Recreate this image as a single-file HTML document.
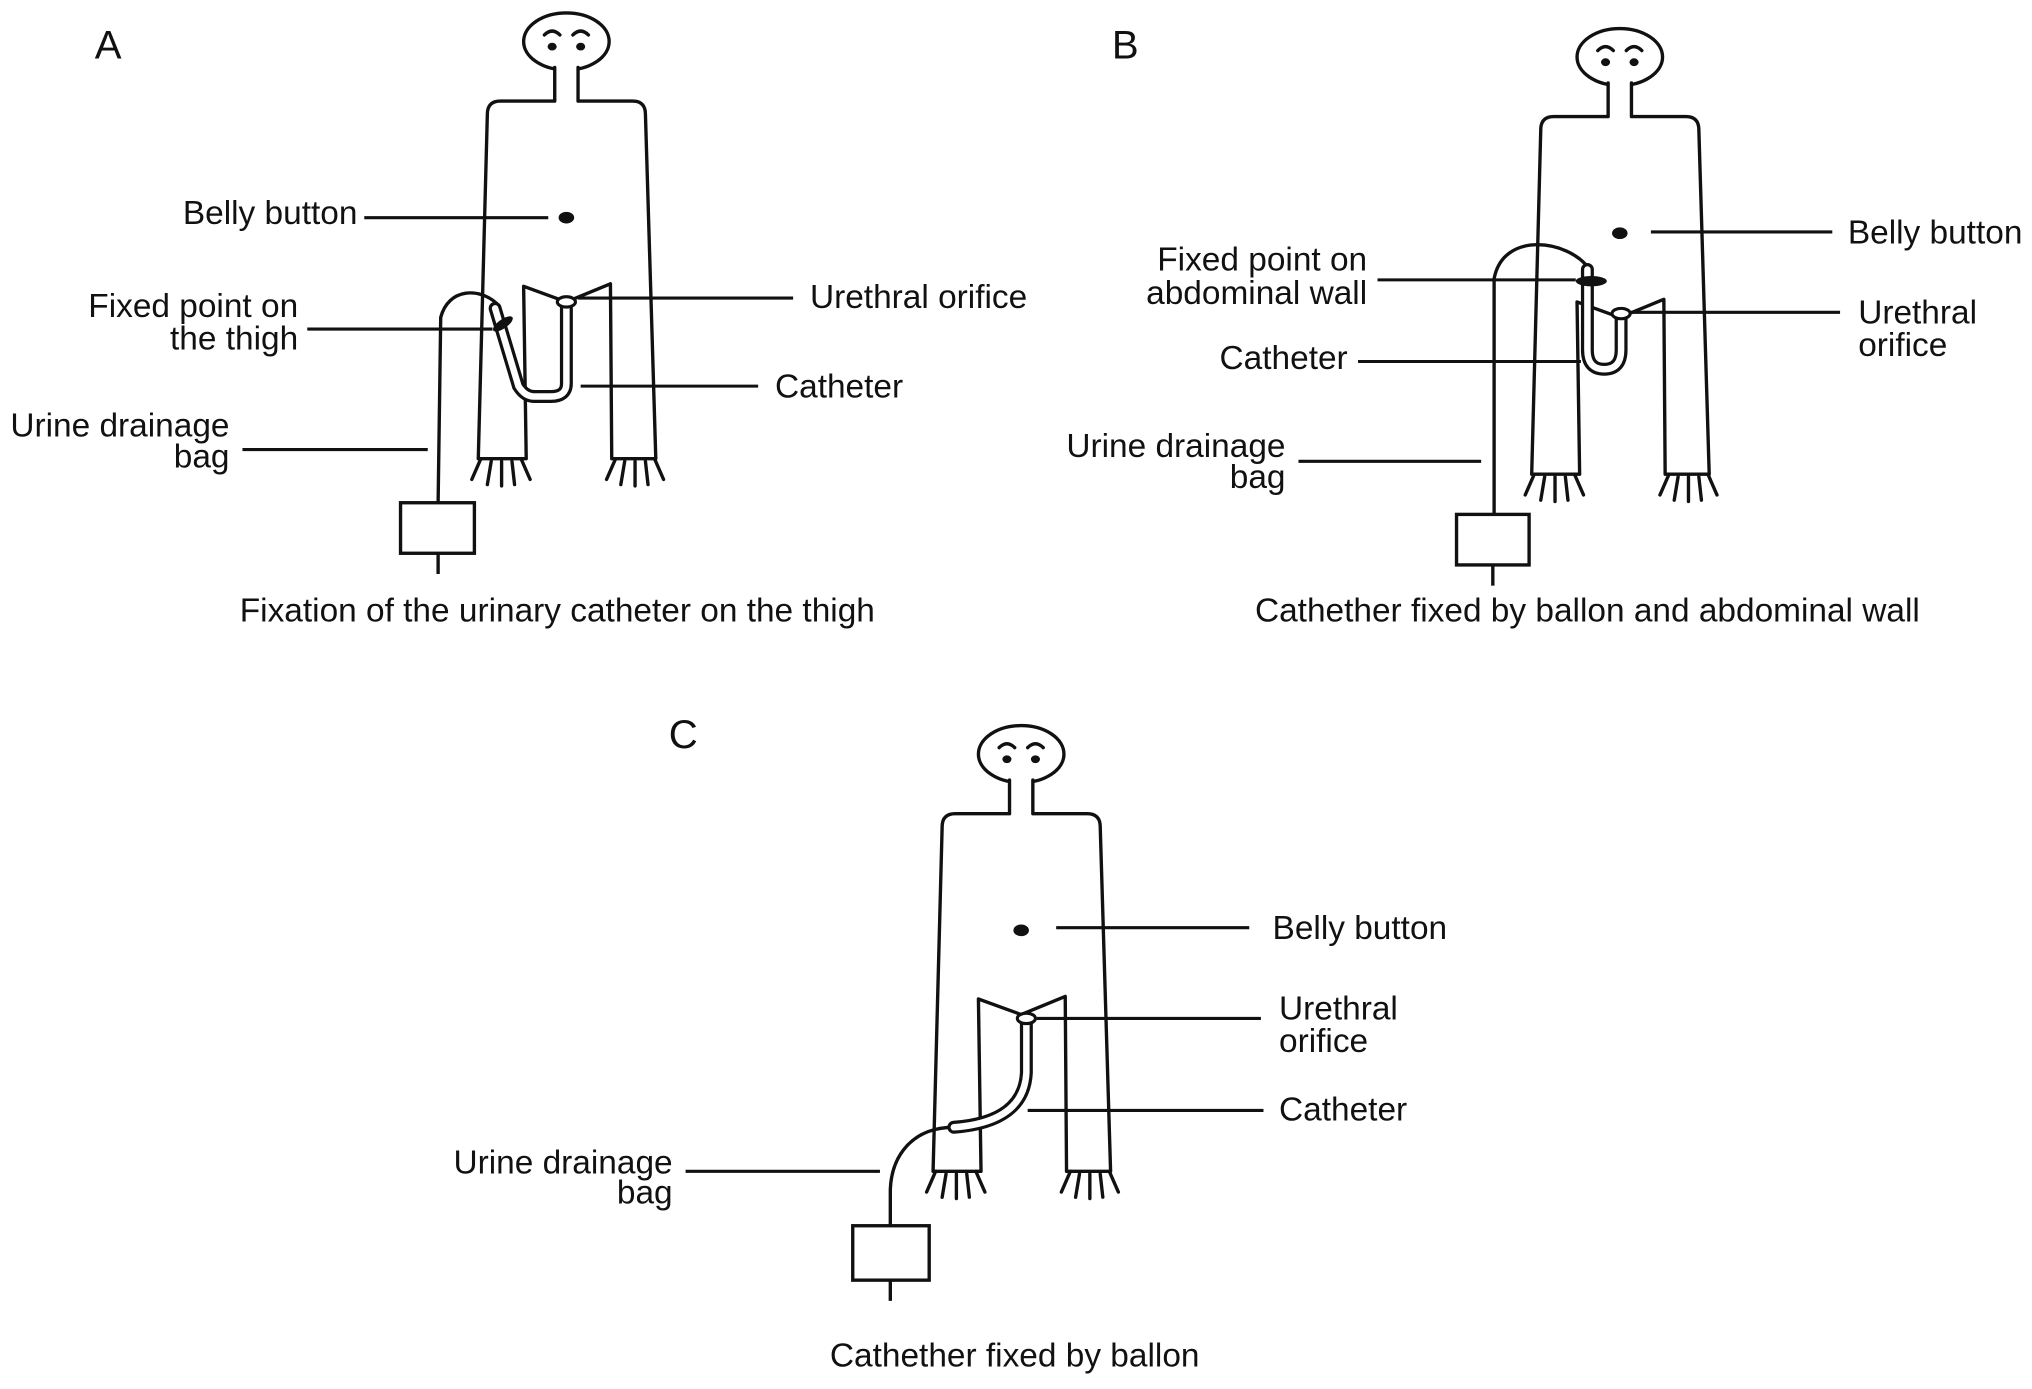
<!DOCTYPE html>
<html><head><meta charset="utf-8"><style>
html,body{margin:0;padding:0;background:#fff;}
svg{display:block;}
text{font-family:"Liberation Sans",Arial,sans-serif;font-size:25.8px;fill:#111;dominant-baseline:middle;}
.lbl{font-size:31px;}
</style></head><body>
<svg width="2032" height="1389" viewBox="0 0 1568 1072" xmlns="http://www.w3.org/2000/svg">
<defs>
<g id="fig" fill="none" stroke="#111" stroke-width="2.6" stroke-linejoin="round" stroke-linecap="round">
  <ellipse cx="61" cy="-46" rx="33" ry="22" fill="#fff"/>
  <path d="M52,-26 V0 H10 Q0,0 0,10 L-7,276 L30,276 L28,143 L61,155 L95,141 L96,276 L130,276 L122,10 Q122,0 112,0 H70 V-26" fill="#fff"/>
  <path d="M44,-51 Q50,-57 56,-51 M66,-51 Q72,-57 78,-51"/>
  <ellipse cx="50" cy="-42" rx="3.5" ry="3" fill="#111" stroke="none"/>
  <ellipse cx="72" cy="-42" rx="3.5" ry="3" fill="#111" stroke="none"/>
  <ellipse cx="61" cy="90" rx="6" ry="4.5" fill="#111" stroke="none"/>
  <path d="M-5,276 L-12,292 M3,278 L0,296 M11,278 L11,297 M19,278 L21,296 M26,276 L33,292"/>
  <path d="M99,276 L92,292 M106,278 L103,296 M114,278 L114,297 M122,278 L124,296 M129,276 L136,292"/>
</g>
</defs>
<rect width="1568" height="1072" fill="#fff"/>

<!-- Panel A -->
<use href="#fig" x="376" y="78"/>
<g fill="none" stroke="#111" stroke-linecap="round">
  <path d="M383,234 C370,222 346,222 340,245 L338,388" stroke-width="2.6"/>
  <path d="M437,234 L437,296 Q437,306 425,306 L412,306 Q405,306 400,298 L382,238" stroke-width="10"/>
  <path d="M437,234 L437,296 Q437,306 425,306 L412,306 Q405,306 400,298 L382,238" stroke="#fff" stroke-width="5"/>
</g>
<ellipse cx="437" cy="233" rx="7" ry="4" fill="#fff" stroke="#111" stroke-width="2.4"/>
<ellipse cx="388" cy="250" rx="9" ry="3.5" fill="#111" transform="rotate(-35 388 250)"/>
<rect x="309" y="388" width="57" height="39" fill="#fff" stroke="#111" stroke-width="2.6"/>
<line x1="338" y1="427" x2="338" y2="443" stroke="#111" stroke-width="2.6"/>
<g stroke="#111" stroke-width="2.4">
  <line x1="281" y1="168" x2="423" y2="168"/>
  <line x1="237" y1="254" x2="380" y2="254"/>
  <line x1="446" y1="230" x2="612" y2="230"/>
  <line x1="448" y1="298" x2="585" y2="298"/>
  <line x1="187" y1="347" x2="330" y2="347"/>
</g>
<text class="lbl" x="73" y="37">A</text>
<text x="141" y="166">Belly button</text>
<text x="230" y="238" text-anchor="end">Fixed point on</text>
<text x="230" y="263" text-anchor="end">the thigh</text>
<text x="625" y="231">Urethral orifice</text>
<text x="598" y="300">Catheter</text>
<text x="177" y="330" text-anchor="end">Urine drainage</text>
<text x="177" y="354" text-anchor="end">bag</text>
<text x="430" y="473" text-anchor="middle">Fixation of the urinary catheter on the thigh</text>

<!-- Panel B -->
<use href="#fig" x="1189" y="90"/>
<g fill="none" stroke="#111" stroke-linecap="round">
  <path d="M1226,207 C1210,185 1160,178 1153,215 L1153,397" stroke-width="2.6"/>
  <path d="M1251,243 L1251,270 Q1251,285 1238,285 Q1225,285 1225,270 L1225,208" stroke-width="10"/>
  <path d="M1251,243 L1251,270 Q1251,285 1238,285 Q1225,285 1225,270 L1225,208" stroke="#fff" stroke-width="5"/>
</g>
<ellipse cx="1251" cy="242" rx="7" ry="4" fill="#fff" stroke="#111" stroke-width="2.4"/>
<ellipse cx="1228" cy="217" rx="12" ry="4" fill="#111"/>
<rect x="1124" y="397" width="56" height="39" fill="#fff" stroke="#111" stroke-width="2.6"/>
<line x1="1152" y1="436" x2="1152" y2="452" stroke="#111" stroke-width="2.6"/>
<g stroke="#111" stroke-width="2.4">
  <line x1="1274" y1="179" x2="1414" y2="179"/>
  <line x1="1063" y1="216" x2="1216" y2="216"/>
  <line x1="1048" y1="279" x2="1220" y2="279"/>
  <line x1="1258" y1="241" x2="1420" y2="241"/>
  <line x1="1002" y1="356" x2="1143" y2="356"/>
</g>
<text class="lbl" x="858" y="37">B</text>
<text x="1426" y="181">Belly button</text>
<text x="1055" y="202" text-anchor="end">Fixed point on</text>
<text x="1055" y="228" text-anchor="end">abdominal wall</text>
<text x="1040" y="278" text-anchor="end">Catheter</text>
<text x="1434" y="243">Urethral</text>
<text x="1434" y="268">orifice</text>
<text x="992" y="346" text-anchor="end">Urine drainage</text>
<text x="992" y="370" text-anchor="end">bag</text>
<text x="1225" y="473" text-anchor="middle">Cathether fixed by ballon and abdominal wall</text>

<!-- Panel C -->
<use href="#fig" x="727" y="628"/>
<g fill="none" stroke="#111" stroke-linecap="round">
  <path d="M736,870 C704,870 688,892 687,918 L687,946" stroke-width="2.6"/>
  <path d="M792,788 L792,828 Q790,866 736,870" stroke-width="10"/>
  <path d="M792,788 L792,828 Q790,866 736,870" stroke="#fff" stroke-width="5"/>
</g>
<ellipse cx="792" cy="786" rx="7" ry="4" fill="#fff" stroke="#111" stroke-width="2.4"/>
<rect x="658" y="946" width="59" height="42" fill="#fff" stroke="#111" stroke-width="2.6"/>
<line x1="687" y1="988" x2="687" y2="1004" stroke="#111" stroke-width="2.6"/>
<g stroke="#111" stroke-width="2.4">
  <line x1="815" y1="716" x2="964" y2="716"/>
  <line x1="800" y1="786" x2="973" y2="786"/>
  <line x1="793" y1="857" x2="975" y2="857"/>
  <line x1="529" y1="904" x2="679" y2="904"/>
</g>
<text class="lbl" x="516" y="569">C</text>
<text x="982" y="718">Belly button</text>
<text x="987" y="780">Urethral</text>
<text x="987" y="805">orifice</text>
<text x="987" y="858">Catheter</text>
<text x="519" y="899" text-anchor="end">Urine drainage</text>
<text x="519" y="922" text-anchor="end">bag</text>
<text x="783" y="1048" text-anchor="middle">Cathether fixed by ballon</text>
</svg>
</body></html>
